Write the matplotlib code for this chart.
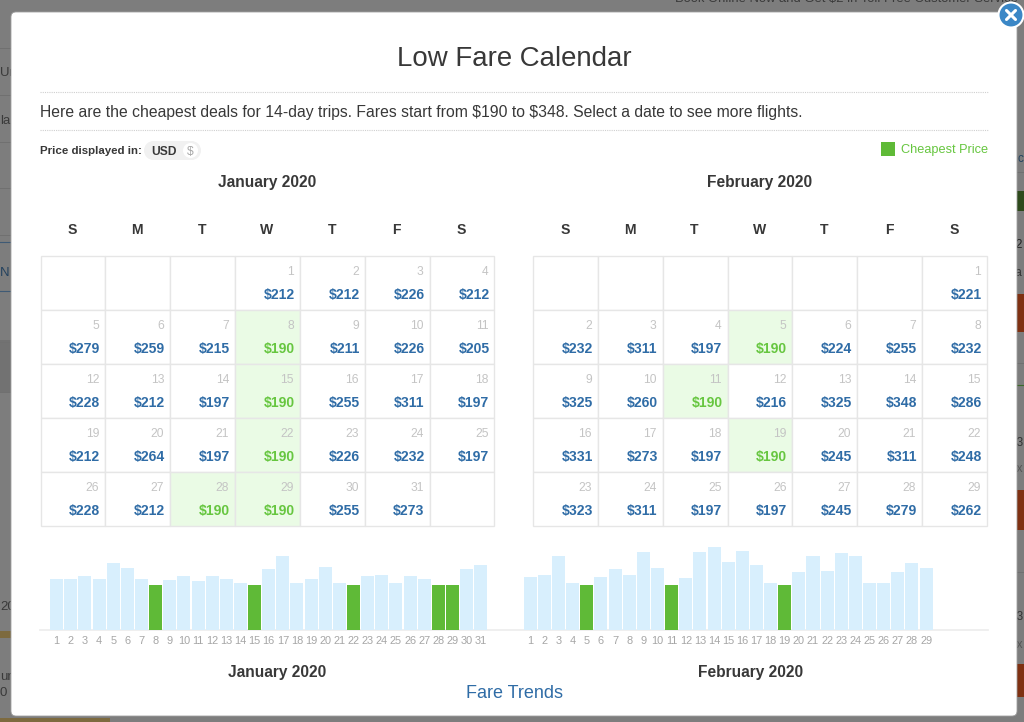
import matplotlib
matplotlib.use("Agg")
import matplotlib.pyplot as plt
from matplotlib.patches import Rectangle, FancyBboxPatch, Circle

plt.rcParams['font.family'] = ['Liberation Sans', 'DejaVu Sans']
plt.rcParams['text.parse_math'] = False

W, H = 1024, 722
TITLE = "Low Fare Calendar"
INTRO = "Here are the cheapest deals for 14-day trips. Fares start from $190 to $348. Select a date to see more flights."
WEEKDAYS = ["S", "M", "T", "W", "T", "F", "S"]
MONTHS = ["January 2020", "February 2020"]
JAN_PRICES = [212, 212, 226, 212, 279, 259, 215, 190, 211, 226, 205, 228, 212, 197, 190, 255, 311, 197,
              212, 264, 197, 190, 226, 232, 197, 228, 212, 190, 190, 255, 273]
FEB_PRICES = [221, 232, 311, 197, 190, 224, 255, 232, 325, 260, 190, 216, 325, 348, 286,
              331, 273, 197, 190, 245, 311, 248, 323, 311, 197, 197, 245, 279, 262]
JAN_OFFSET = 3
FEB_OFFSET = 6
CHEAP = 190

GREEN, LIGHTGREEN, BLUE, BARBLUE = "#5fba37", "#eafbe5", "#2f6ca6", "#d8effd"
DARK, GRIDC, GREY = "#383838", "#e6e6e6", "#c4c4c4"

fig = plt.figure(figsize=(W / 100, H / 100), dpi=100, facecolor="#7d7d7d")
ax = fig.add_axes([0, 0, 1, 1])
ax.set_xlim(0, W)
ax.set_ylim(H, 0)
ax.axis("off")
px = 0.72


def T(x, y, s, size, color=DARK, ha="center", weight="normal", z=5):
    ax.text(x, y, s, fontsize=size * px, color=color, ha=ha, va="center_baseline", fontweight=weight, zorder=z)


# page dimmed behind the overlay
BG_BANDS = [(340, 392, 0, 11, "#727272"), (631, 638, 0, 11, "#7d6a3f"), (718, 722, 0, 110, "#7d6a3f"),
            (191, 211, 1017, 1024, "#2e4a1c"), (294, 332, 1017, 1024, "#7f3112"),
            (490, 530, 1017, 1024, "#7f3112"), (664, 697, 1017, 1024, "#7f3112")]
for y0, y1, x0, x1, c in BG_BANDS:
    ax.add_patch(Rectangle((x0, y0), x1 - x0, y1 - y0, fc=c, ec="none", zorder=0))
for y in (48, 95, 142, 188, 235, 342, 392):
    ax.plot([0, 11], [y, y], color="#707070", lw=0.7, zorder=0)
for y in (242, 291):
    ax.plot([0, 11], [y, y], color="#3f5a75", lw=0.8, zorder=0)
for y in (172, 363, 572):
    ax.plot([1017, 1024], [y, y], color="#707070", lw=0.7, zorder=0)
ax.plot([1017, 1024], [385, 385], color="#3f6a2a", lw=0.8, zorder=0)
for x, y, s, c in [(0, 72, "Ur", "#3a3a3a"), (0, 119, "lar", "#3a3a3a"), (0, 272, "N", "#24425f"),
                   (0, 605, "20", "#3a3a3a"), (0, 675, "ur", "#3a3a3a"), (0, 692, "0", "#3a3a3a")]:
    ax.text(x, y, s, fontsize=9.5, color=c, ha="left", va="center_baseline", zorder=0)
for y, s, c in [(157, "c", "#24425f"), (243, "s2", "#222222"), (272, "ta", "#333333"),
                (441, "73", "#333333"), (467, "ux", "#555555"),
                (615, "73", "#333333"), (643, "ux", "#555555")]:
    ax.text(1023, y, s, fontsize=8.5, color=c, ha="right", va="center_baseline", zorder=0)
ax.text(675, -1, "Book Online Now and Get $2 in Toll Free Customer Service", fontsize=9.4, color="#3a3a3a",
        ha="left", va="center", zorder=0)

ax.add_patch(FancyBboxPatch((15, 16), 998, 696, boxstyle="round,pad=4,rounding_size=5",
                            fc="white", ec="#a0a0a0", lw=0.6, zorder=1))
ax.add_patch(Circle((1011, 15), 12.5, fc="#3b87c6", ec="white", lw=1.5, zorder=6))
ax.plot([1006.5, 1015.5], [10.5, 19.5], color="white", lw=2.2, zorder=7, solid_capstyle="round")
ax.plot([1006.5, 1015.5], [19.5, 10.5], color="white", lw=2.2, zorder=7, solid_capstyle="round")

T(514, 56, TITLE, 27.6)
ax.plot([40, 988], [92, 92], color="#cfcfcf", lw=0.8, ls=(0, (1, 1)), zorder=2)
ax.plot([40, 988], [130, 130], color="#cfcfcf", lw=0.8, ls=(0, (1, 1)), zorder=2)
T(40.5, 111, INTRO, 15.7, ha="left")
T(40, 150, "Price displayed in:", 11.5, ha="left", weight="bold")
ax.add_patch(Rectangle((153.5, 141), 38, 19, fc="#f1f1f1", ec="none", zorder=2))
ax.add_patch(Circle((153.5, 150.5), 9.5, fc="#f1f1f1", ec="none", zorder=2))
ax.add_patch(Circle((191.5, 150.5), 9.5, fc="#f1f1f1", ec="none", zorder=2))
ax.add_patch(Circle((190.5, 150.5), 7.5, fc="white", ec="none", zorder=3))
T(164, 150.5, "USD", 12, weight="bold")
T(190.5, 150.5, "$", 12, "#a8a8a8")
ax.add_patch(Rectangle((880.5, 141.5), 14, 14, fc=GREEN, ec="none", zorder=2))
T(988, 149, "Cheapest Price", 12.8, "#66c63f", ha="right")


def calendar(x0, title_x, month, prices, offset):
    cw, ch = 64.85, 54
    top = 256
    T(title_x, 181, month, 15.5, weight="bold")
    for i, d in enumerate(WEEKDAYS):
        T(x0 + (i + 0.5) * cw - 0.5, 229, d, 14, weight="bold")
    for pos in range(35):
        r, c = pos // 7, pos % 7
        x, y = x0 + c * cw, top + r * ch
        idx = pos - offset
        has = 0 <= idx < len(prices)
        cheap = has and prices[idx] == CHEAP
        ax.add_patch(Rectangle((x, y), cw, ch, fc=LIGHTGREEN if cheap else "white", ec=GRIDC, lw=1, zorder=2))
        if has:
            T(x + cw - 6, y + 14.5, str(idx + 1), 12, GREY, ha="right")
            T(x + cw - 5, y + 38, f"${prices[idx]}", 14, "#66c63f" if cheap else BLUE, ha="right", weight="bold")


calendar(40.5, 267.5, MONTHS[0], JAN_PRICES, JAN_OFFSET)
calendar(533, 760, MONTHS[1], FEB_PRICES, FEB_OFFSET)

ax.plot([40, 988], [630, 630], color="#ececec", lw=1.2, zorder=2)
STEP = 14.135
SCALE = 0.2385  # px per dollar


def bars(first_center, prices):
    left = first_center - STEP / 2
    n = len(prices)
    bx = fig.add_axes([left / W, 1 - 630 / H, n * STEP / W, 90 / H])
    bx.patch.set_alpha(0)
    bx.set_xlim(0.5, n + 0.5)
    bx.set_ylim(0, 90 / SCALE)
    days = list(range(1, n + 1))
    bx.bar(days, prices, width=0.92, color=[GREEN if p == CHEAP else BARBLUE for p in prices])
    bx.set_xticks(days)
    bx.set_xticklabels(days, fontsize=11 * px, color="#a6a6a6")
    bx.tick_params(axis="x", length=0, pad=4)
    bx.set_yticks([])
    for s in bx.spines.values():
        s.set_visible(False)


bars(56.7, JAN_PRICES)
bars(530.3, FEB_PRICES)

T(277, 670.5, MONTHS[0], 15.5, weight="bold")
T(751, 670.5, MONTHS[1], 15.5, weight="bold")
T(514, 691.5, "Fare Trends", 18, BLUE)

fig.savefig("out.png", dpi=100, facecolor=fig.get_facecolor())
